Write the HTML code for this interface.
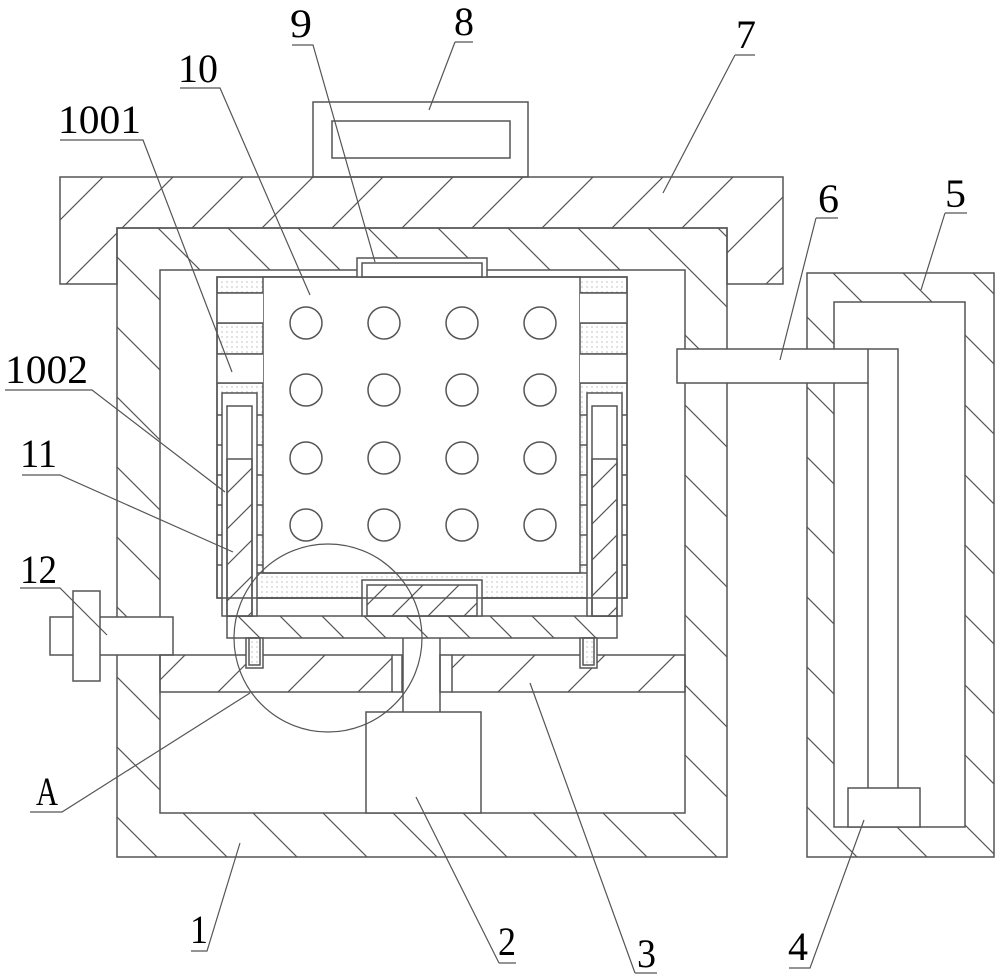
<!DOCTYPE html>
<html><head><meta charset="utf-8"><style>
html,body{margin:0;padding:0;background:#fff;}
svg{display:block}
text{font-family:"Liberation Serif",serif;fill:#000;}
</style></head><body>
<svg width="1000" height="979" viewBox="0 0 1000 979" xmlns="http://www.w3.org/2000/svg">
<defs>
<pattern id="hf" patternUnits="userSpaceOnUse" width="70" height="70">
<path d="M0,70 L70,0 M-10,10 L10,-10 M60,80 L80,60" stroke="#555" stroke-width="1.2"/>
</pattern>
<pattern id="hb" patternUnits="userSpaceOnUse" width="70" height="70">
<path d="M0,0 L70,70 M-10,60 L10,80 M60,-10 L80,10" stroke="#555" stroke-width="1.2"/>
</pattern>
<pattern id="hs" patternUnits="userSpaceOnUse" width="42" height="42">
<path d="M0,0 L42,42 M-10,32 L10,52 M32,-10 L52,10" stroke="#555" stroke-width="1.2"/>
</pattern>
<pattern id="hs2" patternUnits="userSpaceOnUse" width="36" height="36">
<path d="M0,36 L36,0 M-10,10 L10,-10 M26,46 L46,26" stroke="#555" stroke-width="1.2"/>
</pattern>
<pattern id="dot" patternUnits="userSpaceOnUse" width="5" height="5">
<circle cx="2" cy="2" r="0.6" fill="#999"/>
</pattern>
</defs>
<g fill="none" stroke="#555" stroke-width="1.5">
<!-- handle 8 -->
<rect x="313" y="102" width="215" height="75" fill="#fff"/>
<rect x="332" y="121" width="178" height="37"/>
<!-- cover 7 -->
<path d="M60,177 H783 V284 H727 V228 H117 V284 H60 Z" fill="url(#hf)"/>
<!-- body 1 -->
<path fill-rule="evenodd" d="M117,228 H727 V857 H117 Z M160,270 H685 V813 H160 Z" fill="url(#hb)"/>
<!-- tank 5 -->
<path fill-rule="evenodd" d="M807,273 H994 V857 H807 Z M834,302 H965 V827 H834 Z" fill="url(#hb)"/>
<!-- pipe 6 -->
<rect x="677" y="349" width="191" height="34" fill="#fff"/>
<path d="M868,349 H898 V788 M868,383 V788" />
<!-- pump 4 -->
<rect x="848" y="788" width="72" height="39" fill="#fff"/>
<!-- valve 12 -->
<rect x="50" y="617" width="123" height="38" fill="#fff"/>
<rect x="73" y="591" width="27" height="90" fill="#fff"/>
<!-- plate 3 -->
<rect x="160" y="655" width="232" height="37" fill="url(#hf)"/>
<rect x="452" y="655" width="233" height="37" fill="url(#hf)"/>
<path d="M392,655 H402 V692 H392 M452,655 H440 V692 H452"/>
<!-- shaft & motor 2 -->
<path d="M403,638 V712 M440,638 V712"/>
<rect x="366" y="712" width="115" height="101" fill="#fff"/>
<!-- support plate -->
<rect x="227" y="616" width="390" height="22" fill="url(#hs)"/>
<rect x="246" y="638" width="17" height="30" fill="#fff"/>
<rect x="249" y="638" width="11" height="27" fill="url(#dot)"/>
<rect x="580" y="638" width="17" height="30" fill="#fff"/>
<rect x="583" y="638" width="11" height="27" fill="url(#dot)"/>
<!-- basket -->
<rect x="217" y="277" width="410" height="321" fill="url(#dot)"/>
<rect x="263" y="277" width="317" height="296" fill="#fff"/>
<path d="M217,293 H263 M217,323 H263 M217,354 H263 M217,383 H263 M580,293 H627 M580,323 H627 M580,354 H627 M580,383 H627"/>
<rect x="217" y="293" width="46" height="30" fill="#fff" stroke="none"/>
<rect x="217" y="354" width="46" height="29" fill="#fff" stroke="none"/>
<rect x="580" y="293" width="47" height="30" fill="#fff" stroke="none"/>
<rect x="580" y="354" width="47" height="29" fill="#fff" stroke="none"/>
<path d="M217,293 H263 M217,323 H263 M217,354 H263 M217,383 H263 M580,293 H627 M580,323 H627 M580,354 H627 M580,383 H627"/>
<path d="M255,573 H588 M255,598 H362 M482,598 H588"/>
<!-- block 9 bottom -->
<rect x="362" y="580" width="120" height="36" fill="#fff"/>
<rect x="367" y="585" width="110" height="31" fill="url(#hs2)"/>
<!-- sliders 11 left -->
<rect x="222" y="393" width="35" height="223" fill="#fff"/>
<rect x="227" y="406" width="25" height="210" fill="#fff"/>
<rect x="227" y="459" width="25" height="157" fill="url(#hs2)"/>
<!-- sliders right -->
<rect x="587" y="393" width="35" height="223" fill="#fff"/>
<rect x="592" y="406" width="25" height="210" fill="#fff"/>
<rect x="592" y="459" width="25" height="157" fill="url(#hs2)"/>
<path d="M217,415 H222 M217,445 H222 M217,475 H222 M217,505 H222 M217,535 H222 M217,565 H222 M257,415 H263 M257,445 H263 M257,475 H263 M257,505 H263 M257,535 H263 M257,565 H263 M622,415 H627 M622,445 H627 M622,475 H627 M622,505 H627 M622,535 H627 M622,565 H627 M580,415 H587 M580,445 H587 M580,475 H587 M580,505 H587 M580,535 H587 M580,565 H587"/>
<rect x="217" y="277" width="410" height="321"/>
<!-- top block 9 -->
<rect x="357" y="258" width="130" height="19" fill="#fff"/>
<rect x="362" y="263" width="120" height="14"/>
<!-- holes -->
<g>
<circle cx="306" cy="323" r="16"/><circle cx="384" cy="323" r="16"/><circle cx="462" cy="323" r="16"/><circle cx="540" cy="323" r="16"/>
<circle cx="306" cy="390" r="16"/><circle cx="384" cy="390" r="16"/><circle cx="462" cy="390" r="16"/><circle cx="540" cy="390" r="16"/>
<circle cx="306" cy="458" r="16"/><circle cx="384" cy="458" r="16"/><circle cx="462" cy="458" r="16"/><circle cx="540" cy="458" r="16"/>
<circle cx="306" cy="525" r="16"/><circle cx="384" cy="525" r="16"/><circle cx="462" cy="525" r="16"/><circle cx="540" cy="525" r="16"/>
</g>
<!-- circle A -->
<circle cx="328" cy="638" r="94" stroke-width="1.2"/>
</g>
<!-- leaders -->
<g fill="none" stroke="#555" stroke-width="1.2">
<path d="M292,45 H313 L375,262"/>
<path d="M455,42 H473 M455,42 L429,110"/>
<path d="M180,88 H220 L310,295"/>
<path d="M60,140 H143 L232,372"/>
<path d="M735,55 H755 M735,55 L663,193"/>
<path d="M816,218 H838 M816,218 L780,360"/>
<path d="M945,213 H967 M945,213 L921,290"/>
<path d="M5,390 H92 L225,492"/>
<path d="M22,475 H60 L233,552"/>
<path d="M20,588 H60 L107,635"/>
<path d="M30,812 H62 L250,693"/>
<path d="M191,951 H207 L240,843"/>
<path d="M499,963 H516 M499,963 L416,797"/>
<path d="M635,973 H657 M635,973 L530,683"/>
<path d="M789,968 H810 L864,820"/>
</g>
<g font-size="40">
<text x="290" y="37" textLength="22" lengthAdjust="spacingAndGlyphs">9</text>
<text x="454" y="35" textLength="20" lengthAdjust="spacingAndGlyphs">8</text>
<text x="178" y="82" textLength="40" lengthAdjust="spacingAndGlyphs">10</text>
<text x="58" y="133" textLength="83" lengthAdjust="spacingAndGlyphs">1001</text>
<text x="736" y="48" textLength="20" lengthAdjust="spacingAndGlyphs">7</text>
<text x="818" y="212" textLength="21" lengthAdjust="spacingAndGlyphs">6</text>
<text x="945" y="207" textLength="21" lengthAdjust="spacingAndGlyphs">5</text>
<text x="5" y="383" textLength="83" lengthAdjust="spacingAndGlyphs">1002</text>
<text x="20" y="467" textLength="37" lengthAdjust="spacingAndGlyphs">11</text>
<text x="20" y="583" textLength="37" lengthAdjust="spacingAndGlyphs">12</text>
<text x="36" y="805" textLength="22" lengthAdjust="spacingAndGlyphs">A</text>
<text x="190" y="943" textLength="18" lengthAdjust="spacingAndGlyphs">1</text>
<text x="498" y="955" textLength="18" lengthAdjust="spacingAndGlyphs">2</text>
<text x="637" y="967" textLength="19" lengthAdjust="spacingAndGlyphs">3</text>
<text x="788" y="960" textLength="20" lengthAdjust="spacingAndGlyphs">4</text>
</g>
</svg>
</body></html>
